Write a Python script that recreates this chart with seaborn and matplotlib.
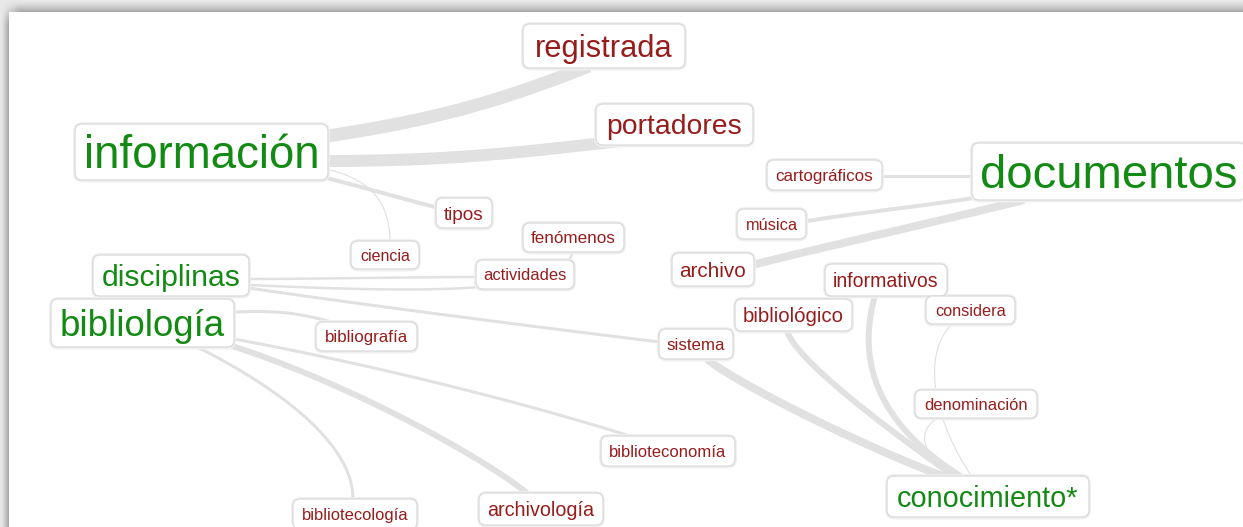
import numpy as np
import pandas as pd
import matplotlib
matplotlib.use("Agg")
import matplotlib.pyplot as plt
from matplotlib.patches import FancyBboxPatch
import seaborn as sns

# ---------------- data ----------------
words = ["registrada", "portadores", "información", "documentos", "cartográficos",
         "música", "archivo", "informativos", "bibliológico", "considera", "sistema",
         "denominación", "conocimiento*", "biblioteconomía", "archivología",
         "bibliotecología", "bibliografía", "bibliología", "disciplinas", "ciencia",
         "tipos", "fenómenos", "actividades"]
word_group = ["term", "term", "hub", "hub", "term",
              "term", "term", "term", "term", "term", "term",
              "term", "hub", "term", "term",
              "term", "term", "hub", "hub", "term",
              "term", "term", "term"]

edge_source = ["información", "información", "información", "información",
               "disciplinas", "disciplinas", "disciplinas",
               "bibliología", "bibliología", "bibliología", "bibliología",
               "documentos", "documentos", "documentos",
               "sistema", "bibliológico", "informativos", "considera", "denominación"]
edge_target = ["registrada", "portadores", "tipos", "ciencia",
               "actividades", "fenómenos", "sistema",
               "bibliografía", "biblioteconomía", "archivología", "bibliotecología",
               "cartográficos", "música", "archivo",
               "conocimiento*", "conocimiento*", "conocimiento*", "conocimiento*", "conocimiento*"]
edge_weight = [13, 12, 4, 1.2,
               2.5, 2.5, 3,
               3, 3, 6, 3,
               3, 4, 8,
               8, 6, 6, 1.2, 1.2]

# ---------------- layout (pixel space) ----------------
NODE_CENTER = {
    "registrada": (604, 46), "portadores": (674.5, 124.5), "información": (201.5, 152),
    "documentos": (1109, 171.5), "cartográficos": (824.5, 175), "música": (771.5, 224),
    "archivo": (713, 269.5), "informativos": (886, 280), "bibliológico": (793.5, 315),
    "considera": (970.5, 310), "sistema": (696, 344), "denominación": (976, 404),
    "conocimiento*": (988, 496.5), "biblioteconomía": (668, 451), "archivología": (541, 509),
    "bibliotecología": (355, 514), "bibliografía": (366.5, 336.5), "bibliología": (142.5, 323),
    "disciplinas": (171, 275.5), "ciencia": (385, 255), "tipos": (464, 213),
    "fenómenos": (573.5, 237.5), "actividades": (525, 274.5),
}
NODE_BOX = {
    "registrada": (162, 44), "portadores": (157, 41), "información": (253, 56),
    "documentos": (274, 57), "cartográficos": (115, 30), "música": (69, 30),
    "archivo": (82, 33), "informativos": (122, 32), "bibliológico": (117, 32),
    "considera": (89, 28), "sistema": (74, 30), "denominación": (122, 28),
    "conocimiento*": (202, 41), "biblioteconomía": (134, 30), "archivología": (124, 32),
    "bibliotecología": (124, 30), "bibliografía": (101, 29), "bibliología": (183, 48),
    "disciplinas": (156, 41), "ciencia": (68, 28), "tipos": (56, 30),
    "fenómenos": (101, 29), "actividades": (98, 29),
}
NODE_TEXT_W = {
    "registrada": 138, "portadores": 136, "información": 238, "documentos": 258,
    "cartográficos": 98, "música": 52, "archivo": 67, "informativos": 106,
    "bibliológico": 101, "considera": 71, "sistema": 58, "denominación": 103,
    "conocimiento*": 182, "biblioteconomía": 117, "archivología": 107,
    "bibliotecología": 106, "bibliografía": 83, "bibliología": 165, "disciplinas": 139,
    "ciencia": 50, "tipos": 40, "fenómenos": 85, "actividades": 83,
}
# per edge: source anchor offset, source handle, target handle, target anchor offset
EDGE_SHAPE = [
    ((119.5, -15), (100, -15), (-100, 40), (-15, 20)),
    ((123.5, 9), (150, 0), (-100, 10), (-24.5, 13.5)),
    ((125, 26), (40, 10), (-40, -10), (-25, -5)),
    ((128.5, 18), (40, 10), (0, -40), (5, -13)),
    ((78, 3.5), (50, 0), (-50, 0), (-48, 2.5)),
    ((78, 9.5), (180, 8), (-10, 45), (0, 12.5)),
    ((78, 12.5), (100, 15), (-100, -12), (-36, -2)),
    ((92, -11), (50, -2), (-30, -8), (-33, -14)),
    ((91.5, 16), (120, 22), (-120, -38), (-35, -14)),
    ((89.5, 23), (110, 35), (-50, -40), (-14, -16)),
    ((54.5, 24), (70, 35), (0, -60), (-2, -15)),
    ((-137, 4.5), (-30, 0), (30, 0), (57.5, 1)),
    ((-132, 26), (-50, 8), (50, -8), (35.5, -3)),
    ((-85, 28.5), (-80, 20), (80, -20), (41, -5)),
    ((11, 15), (30, 25), (-80, -30), (-43, -19.5)),
    ((-6.5, 16), (10, 30), (-70, -50), (-33, -19.5)),
    ((-11, 16), (-20, 70), (-80, -50), (-26, -19.5)),
    ((-18.5, 14), (-30, 30), (-40, -60), (-16, -19.5)),
    ((-38, 14), (-25, 15), (-30, -20), (-33, -19.5)),
]

W, H = 1243, 527
GREEN = "#138a13"
RED = "#971c1c"
EDGE_COLOR = "#e1e1e1"
FONT = "Liberation Sans"

sns.set_theme(style="white")
plt.rcParams["font.family"] = [FONT, "DejaVu Sans"]

fig = plt.figure(figsize=(W / 100, H / 100), dpi=100, facecolor="white")
ax = fig.add_axes([0, 0, 1, 1])

# ---- panel frame / shadow background ----
yy, xx = np.mgrid[0:H, 0:W].astype(float)
top = np.clip(yy / 12.0, 0, 1) ** 1.4 * (yy < 12)
left = np.clip(xx / 9.0, 0, 1) ** 1.4 * (xx < 9)
fade_x = np.clip((xx - 2) / 18.0, 0, 1)
fade_y = np.clip((yy - 4) / 20.0, 0, 1)
dark = np.maximum(0.28 * top * fade_x, 0.30 * left * fade_y)
outside = (yy < 12) | (xx < 9)
base = np.where(outside, 0.91 - dark, 1.0)
ax.imshow(base, cmap="gray", vmin=0, vmax=1, extent=(0, W, H, 0),
          interpolation="bilinear", zorder=0, aspect="auto")


# ---- edges via seaborn ----
def bezier(p0, c1, c2, p3, n=60):
    t = np.linspace(0, 1, n)[:, None]
    p0, c1, c2, p3 = map(np.asarray, (p0, c1, c2, p3))
    return ((1 - t) ** 3) * p0 + 3 * ((1 - t) ** 2) * t * c1 + 3 * (1 - t) * t ** 2 * c2 + t ** 3 * p3


rows = []
for i, (s, t, w) in enumerate(zip(edge_source, edge_target, edge_weight)):
    so, h1, h2, to = EDGE_SHAPE[i]
    sc, tc = NODE_CENTER[s], NODE_CENTER[t]
    p0 = (sc[0] + so[0], sc[1] + so[1])
    p3 = (tc[0] + to[0], tc[1] + to[1])
    c1 = (p0[0] + h1[0], p0[1] + h1[1])
    c2 = (p3[0] + h2[0], p3[1] + h2[1])
    pts = bezier(p0, c1, c2, p3)
    for j, (x, y) in enumerate(pts):
        rows.append({"edge": i, "order": j, "x": x, "y": y, "weight": w})
edges = pd.DataFrame(rows)
size_map = {w: w * 0.72 for w in sorted(set(edge_weight))}
sns.lineplot(data=edges, x="x", y="y", units="edge", size="weight", sizes=size_map,
             estimator=None, sort=False, color=EDGE_COLOR, legend=False, ax=ax,
             solid_capstyle="butt", zorder=1)

# ---- nodes ----
fig.canvas.draw()
renderer = fig.canvas.get_renderer()
for word, grp in zip(words, word_group):
    cx, cy = NODE_CENTER[word]
    bw, bh = NODE_BOX[word]
    shadow = FancyBboxPatch((cx - bw / 2 - 0.5, cy - bh / 2 - 0.5), bw + 1, bh + 1.5,
                            boxstyle="round,pad=0,rounding_size=7.5",
                            fc="none", ec="#efefef", lw=2.0, zorder=2.5)
    ax.add_patch(shadow)
    box = FancyBboxPatch((cx - bw / 2, cy - bh / 2), bw, bh,
                         boxstyle="round,pad=0,rounding_size=7",
                         fc="white", ec="#d9d9d9", lw=0.9, zorder=3)
    ax.add_patch(box)
    txt = ax.text(cx, cy, word, ha="center", va="baseline", fontsize=10,
                  color=GREEN if grp == "hub" else RED, family=[FONT, "DejaVu Sans"], zorder=4)
    width10 = txt.get_window_extent(renderer=renderer).width
    size_pt = 10 * NODE_TEXT_W[word] / width10
    size_px = size_pt * 100 / 72
    txt.set_fontsize(size_pt)
    txt.set_y(cy + 0.35 * size_px)

ax.set_xlim(0, W)
ax.set_ylim(H, 0)
ax.axis("off")
fig.savefig("out.png", dpi=100, facecolor="white")
